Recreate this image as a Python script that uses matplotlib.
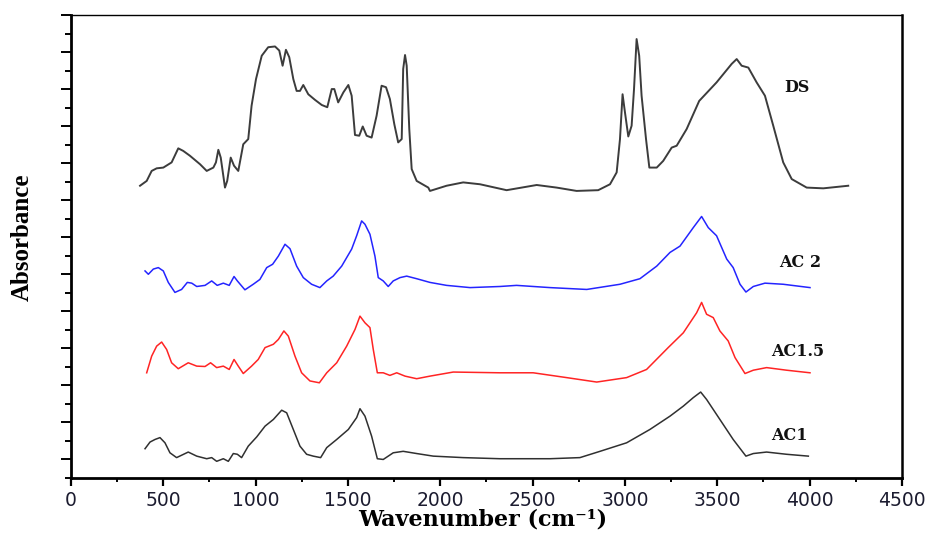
# FTIR spectra of DS and the AC samples, stacked with vertical offsets

import numpy as np
import matplotlib
matplotlib.use('Agg')
import matplotlib.pyplot as plt
from matplotlib.ticker import MultipleLocator, NullFormatter

# ---- data (wavenumber in cm-1, absorbance offset units) ----
ds_wn = [374, 410, 437, 464, 500, 545, 581, 608, 644, 699, 735, 771, 785, 798, 811,
         834, 846, 865, 883, 906, 933, 960, 978, 1002, 1033, 1068, 1105, 1128, 1146,
         1164, 1182, 1204, 1222, 1240, 1258, 1285, 1321, 1358, 1388, 1412, 1426, 1447,
         1475, 1502, 1520, 1538, 1561, 1580, 1601, 1628, 1655, 1682, 1706, 1727, 1751,
         1772, 1791, 1799, 1809, 1818, 1832, 1845, 1872, 1935, 1944, 2034, 2124, 2215,
         2359, 2522, 2630, 2738, 2855, 2919, 2955, 2973, 2987, 3000, 3018, 3036, 3049,
         3063, 3077, 3090, 3114, 3132, 3172, 3207, 3253, 3280, 3334, 3402, 3496, 3578,
         3605, 3632, 3668, 3713, 3758, 3803, 3857, 3903, 3984, 4074, 4209]
ds_abs = [7.39, 7.52, 7.79, 7.86, 7.88, 8.02, 8.40, 8.33, 8.20, 7.97, 7.79, 7.88, 8.02,
          8.36, 8.15, 7.34, 7.52, 8.15, 7.93, 7.79, 8.51, 8.65, 9.55, 10.27, 10.90,
          11.13, 11.15, 11.04, 10.63, 11.06, 10.86, 10.27, 9.95, 9.95, 10.11, 9.86, 9.71,
          9.57, 9.51, 10.00, 10.00, 9.64, 9.91, 10.11, 9.82, 8.76, 8.74, 8.99, 8.74, 8.69,
          9.28, 10.09, 10.05, 9.73, 9.05, 8.56, 8.65, 10.54, 10.92, 10.63, 8.92, 7.84,
          7.52, 7.34, 7.25, 7.39, 7.48, 7.43, 7.27, 7.41, 7.34, 7.25, 7.27, 7.43, 7.75,
          8.65, 9.86, 9.37, 8.72, 9.01, 10.00, 11.35, 10.90, 9.82, 8.65, 7.88, 7.88, 8.06,
          8.42, 8.47, 8.92, 9.68, 10.18, 10.68, 10.81, 10.63, 10.58, 10.18, 9.82, 9.01,
          8.02, 7.57, 7.34, 7.32, 7.39]

ac2_wn = [401, 419, 446, 473, 500, 527, 563, 599, 630, 654, 681, 726, 762, 792, 825,
          857, 883, 901, 942, 987, 1023, 1060, 1092, 1123, 1159, 1186, 1222, 1258, 1303,
          1348, 1385, 1420, 1466, 1520, 1547, 1574, 1592, 1619, 1646, 1664, 1691, 1718,
          1745, 1782, 1818, 1872, 1944, 2034, 2161, 2323, 2413, 2594, 2793, 2973, 3081,
          3172, 3244, 3298, 3370, 3415, 3451, 3496, 3551, 3586, 3623, 3655, 3695, 3758,
          3857, 4002]
ac2_abs = [5.09, 5.00, 5.14, 5.18, 5.09, 4.78, 4.51, 4.59, 4.78, 4.76, 4.67, 4.70, 4.82,
           4.70, 4.76, 4.70, 4.94, 4.82, 4.58, 4.73, 4.86, 5.18, 5.27, 5.49, 5.81, 5.69,
           5.22, 4.91, 4.73, 4.64, 4.82, 4.95, 5.22, 5.68, 6.04, 6.44, 6.35, 6.08, 5.49,
           4.91, 4.82, 4.67, 4.82, 4.91, 4.95, 4.88, 4.78, 4.70, 4.64, 4.67, 4.70, 4.64,
           4.59, 4.73, 4.88, 5.22, 5.59, 5.76, 6.26, 6.56, 6.26, 6.04, 5.41, 5.18, 4.73,
           4.52, 4.67, 4.76, 4.73, 4.64]

ac15_wn = [410, 437, 464, 491, 518, 545, 581, 635, 681, 726, 756, 789, 825, 857, 883,
           906, 933, 978, 1014, 1051, 1096, 1123, 1153, 1177, 1213, 1249, 1294, 1345,
           1385, 1439, 1493, 1538, 1565, 1592, 1619, 1637, 1659, 1691, 1727, 1764, 1809,
           1872, 1944, 2070, 2323, 2503, 2684, 2847, 3009, 3117, 3234, 3316, 3388, 3415,
           3442, 3478, 3514, 3559, 3596, 3650, 3695, 3767, 3875, 4002]
ac15_abs = [2.34, 2.79, 3.06, 3.17, 2.97, 2.61, 2.45, 2.61, 2.52, 2.51, 2.61, 2.48, 2.52,
            2.43, 2.70, 2.52, 2.32, 2.52, 2.70, 3.02, 3.11, 3.24, 3.47, 3.33, 2.79, 2.34,
            2.12, 2.07, 2.34, 2.61, 3.06, 3.51, 3.87, 3.69, 3.56, 2.97, 2.34, 2.34, 2.27,
            2.34, 2.25, 2.18, 2.25, 2.36, 2.34, 2.34, 2.21, 2.09, 2.21, 2.43, 3.02, 3.42,
            3.96, 4.24, 3.92, 3.83, 3.47, 3.20, 2.75, 2.32, 2.41, 2.48, 2.41, 2.34]

ac1_wn = [401, 428, 455, 482, 509, 536, 572, 635, 681, 735, 762, 789, 825, 852, 879,
          901, 924, 960, 1006, 1051, 1096, 1141, 1168, 1204, 1240, 1276, 1312, 1352,
          1385, 1439, 1502, 1547, 1565, 1592, 1628, 1659, 1691, 1745, 1799, 1872, 1962,
          2124, 2323, 2594, 2756, 2865, 3009, 3135, 3244, 3316, 3370, 3410, 3442, 3514,
          3586, 3655, 3695, 3767, 3875, 3993]
ac1_abs = [0.29, 0.47, 0.54, 0.59, 0.45, 0.18, 0.05, 0.20, 0.09, 0.02, 0.05, -0.05, 0.02,
           -0.05, 0.16, 0.14, 0.05, 0.36, 0.61, 0.90, 1.08, 1.33, 1.26, 0.81, 0.36, 0.14,
           0.09, 0.05, 0.32, 0.54, 0.81, 1.13, 1.37, 1.17, 0.63, 0.02, 0.00, 0.18, 0.22,
           0.16, 0.09, 0.05, 0.02, 0.02, 0.05, 0.22, 0.45, 0.81, 1.17, 1.44, 1.67, 1.82,
           1.62, 1.08, 0.54, 0.09, 0.16, 0.20, 0.14, 0.09]

labels = ['DS', 'AC 2', 'AC1.5', 'AC1']
label_x = [3931, 3948, 3937, 3893]
label_y = [10.05, 5.32, 2.92, 0.65]

# ---- figure ----
fig = plt.figure(figsize=(9.29, 5.39), dpi=100)
ax = fig.add_axes([0.0764, 0.1132, 0.8945, 0.8590])

ax.plot(ds_wn, ds_abs, color='#3c3c3c', lw=1.4)
ax.plot(ac2_wn, ac2_abs, color='#2424ff', lw=1.1)
ax.plot(ac15_wn, ac15_abs, color='#ff2424', lw=1.1)
ax.plot(ac1_wn, ac1_abs, color='#303030', lw=1.1)

for lab, lx, ly in zip(labels, label_x, label_y):
    ax.text(lx, ly, lab, ha='center', va='center', fontsize=11.5,
            fontweight='bold', family='DejaVu Serif', color='#111111')

ax.set_xlim(0, 4500)
ax.set_ylim(-0.5, 12)

ax.xaxis.set_major_locator(MultipleLocator(500))
ax.xaxis.set_minor_locator(MultipleLocator(250))
ax.yaxis.set_major_locator(MultipleLocator(1))
ax.yaxis.set_minor_locator(MultipleLocator(0.5))
ax.yaxis.set_major_formatter(NullFormatter())

ax.tick_params(axis='x', which='major', direction='out', length=5.5, width=1.6,
               labelsize=13.5, pad=4, labelcolor='#1c1c30')
ax.tick_params(axis='x', which='minor', direction='out', length=3, width=1.4)
ax.tick_params(axis='y', which='major', direction='out', length=7.5, width=1.4)
ax.tick_params(axis='y', which='minor', direction='out', length=4, width=1.4)
ax.tick_params(top=False, right=False)

ax.spines['left'].set_linewidth(2.0)
ax.spines['bottom'].set_linewidth(2.0)
ax.spines['right'].set_linewidth(1.8)
ax.spines['top'].set_linewidth(1.0)

fig.text(0.520, 0.015, 'Wavenumber (cm⁻¹)', ha='center', va='bottom',
         fontsize=16, fontweight='bold', family='DejaVu Serif')
fig.text(0.024, 0.56, 'Absorbance', ha='center', va='center', rotation=90,
         fontsize=18, fontweight='bold', family='Liberation Serif')

fig.savefig('out.png', dpi=100)
